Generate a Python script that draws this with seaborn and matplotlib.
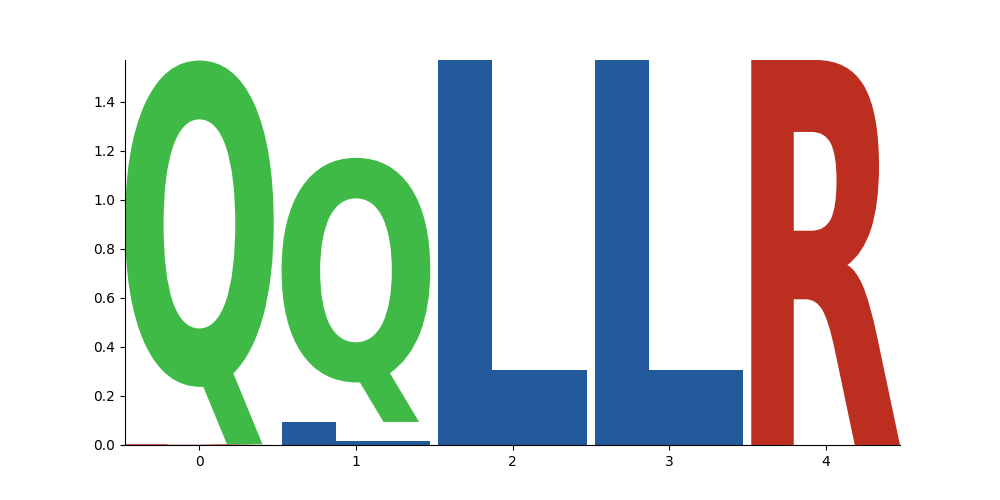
import matplotlib
matplotlib.use("Agg")
import matplotlib.pyplot as plt
import seaborn as sns
import pandas as pd
from matplotlib.textpath import TextPath
from matplotlib.font_manager import FontProperties
from matplotlib.patches import PathPatch
from matplotlib.transforms import Affine2D

# Data: letter heights per position
positions = [0, 1, 2, 3, 4]
L_heights = [0.0, 0.094, 1.57, 1.57, 0.0]
Q_heights = [1.565, 1.077, 0.0, 0.0, 0.0]
R_heights = [0.003, 0.0, 0.0, 0.0, 1.57]

df = pd.DataFrame({"L": L_heights, "Q": Q_heights, "R": R_heights}, index=positions)

colors = {"L": "#225a9c", "Q": "#40ba46", "R": "#bc2e20"}
font = FontProperties(family="DejaVu Sans", weight="bold")
width = 0.95


def draw_letter(ax, char, x, floor, ceiling, color):
    path = TextPath((0, 0), char, size=1, prop=font)
    ext = path.get_extents()
    sx = width / ext.width
    sy = (ceiling - floor) / ext.height
    tr = (Affine2D()
          .translate(-ext.x0, -ext.y0)
          .scale(sx, sy)
          .translate(x - width / 2, floor))
    patch = PathPatch(tr.transform_path(path), facecolor=color,
                      edgecolor="none", linewidth=0)
    ax.add_patch(patch)


fig, ax = plt.subplots(figsize=(10, 5))

for pos in df.index:
    row = df.loc[pos]
    row = row[row > 0].sort_values()
    floor = 0.0
    for char, h in row.items():
        draw_letter(ax, char, pos, floor, floor + h, colors[char])
        floor += h

ax.set_xlim(min(positions) - width / 2, max(positions) + width / 2)
ax.set_ylim(0, df.sum(axis=1).max())
ax.set_xticks(positions)
sns.despine(ax=ax)

plt.savefig("out.png", dpi=100)
